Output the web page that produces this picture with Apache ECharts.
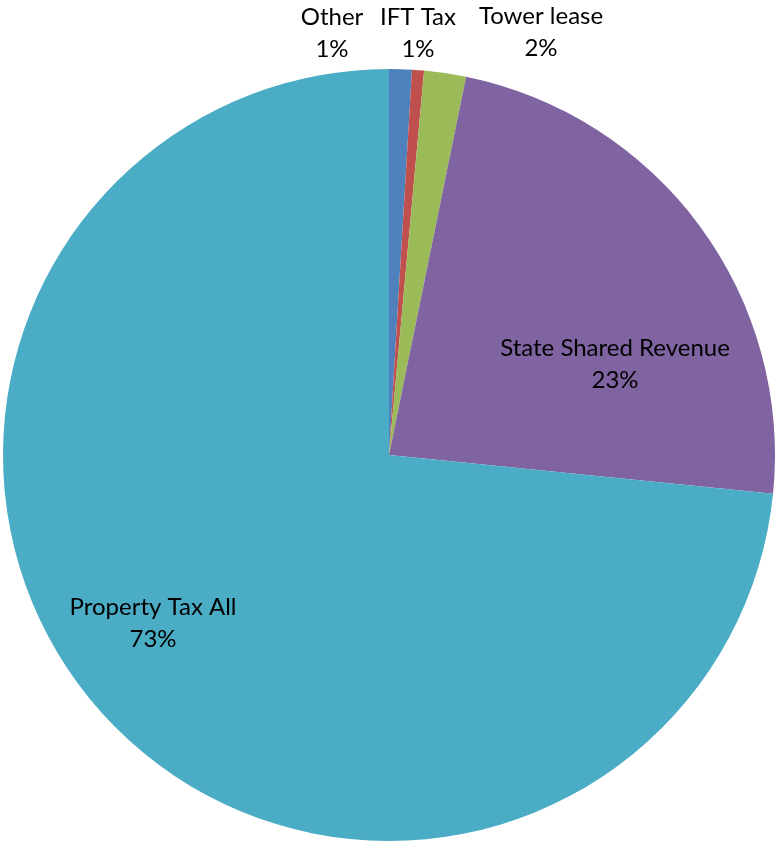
<!DOCTYPE html>
<html>
<head>
<meta charset="utf-8">
<script src="https://cdn.jsdelivr.net/npm/echarts@6/dist/echarts.min.js"></script>
<style>html,body{margin:0;padding:0;background:#fff}#c{width:775px;height:842px}</style>
</head>
<body>
<div id="c"></div>
<script>
const categories = ['Other', 'IFT Tax', 'Tower lease', 'State Shared Revenue', 'Property Tax All'];
const values = [0.95, 0.5, 1.75, 23.4, 73.4];
const colors = ['#4F81BD', '#C0504D', '#9BBB59', '#8064A2', '#4BACC6'];
const labelSpots = [[332, 33], [418, 33], [541, 32], [615, 364], [153, 623]];

const chart = echarts.init(document.getElementById('c'));
chart.setOption({
  animation: false,
  series: [{
    type: 'pie',
    center: [389, 455],
    radius: 386,
    startAngle: 90,
    clockwise: true,
    avoidLabelOverlap: false,
    itemStyle: { borderWidth: 0 },
    label: {
      show: true,
      position: 'inside',
      fontFamily: 'Lato',
      fontSize: 24,
      lineHeight: 32,
      color: '#000',
      align: 'center',
      formatter: p => p.name + '\n' + Math.round(p.percent) + '%'
    },
    labelLine: { show: false },
    labelLayout: p => ({
      x: labelSpots[p.dataIndex][0],
      y: labelSpots[p.dataIndex][1],
      align: 'center',
      verticalAlign: 'middle'
    }),
    emphasis: { disabled: true },
    data: categories.map((c, i) => ({ name: c, value: values[i], itemStyle: { color: colors[i] } }))
  }]
});
</script>
</body>
</html>
